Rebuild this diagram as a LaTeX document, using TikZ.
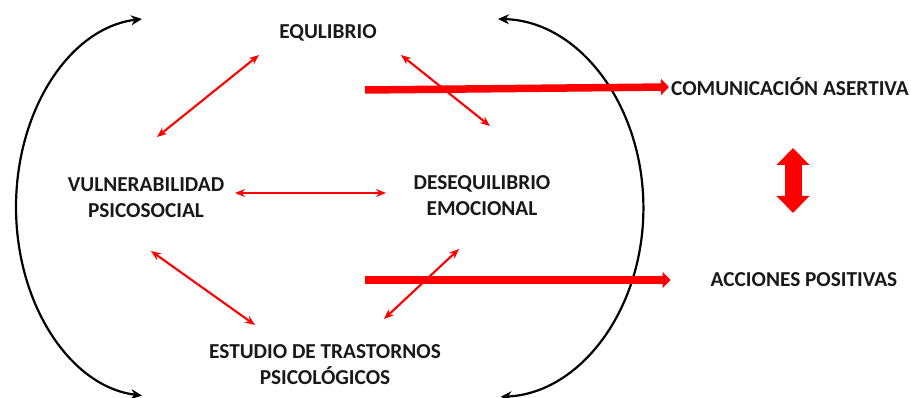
\documentclass[tikz,border=0pt]{standalone}
\usepackage{fontspec}
\setmainfont{Carlito}
\usetikzlibrary{arrows.meta, positioning}
\begin{document}
\begin{tikzpicture}[x=1pt,y=1pt,
	lbl/.style={font=\bfseries\fontsize{21.3}{26}\selectfont, align=center, inner sep=0pt, text=black!90},
	dbl/.style={red, line width=2.1pt, {Stealth[length=10pt,width=8pt]}-{Stealth[length=10pt,width=8pt]}},
	big/.style={red, line width=7.5pt, -{Triangle[length=8pt,width=16pt]}},
	loop/.style={black, line width=2.2pt, {Stealth[length=11pt,width=10pt]}-{Stealth[length=11pt,width=10pt]}}]
					\useasboundingbox (0,0) rectangle (911,398);
					% labels
					\node[lbl] (equ) at (328,365) {EQULIBRIO};
					\node[lbl] (vul) at (146,200) {VULNERABILIDAD\\PSICOSOCIAL};
					\node[lbl] (des) at (482,202) {DESEQUILIBRIO\\EMOCIONAL};
					\node[lbl] (est) at (325,33) {ESTUDIO DE TRASTORNOS\\PSICOLÓGICOS};
					\node[lbl] (com) at (790,311) {COMUNICACIÓN ASERTIVA};
					\node[lbl] (acc) at (804,118) {ACCIONES POSITIVAS};
					% arrow ends
					\coordinate (equA) at (259,343);
					\coordinate (vulA) at (157,261);
					\coordinate (equB) at (401,343);
					\coordinate (desA) at (490,272);
					\coordinate (vulB) at (235,205);
					\coordinate (desB) at (386,205);
					\coordinate (vulC) at (151,147);
					\coordinate (estA) at (255,73);
					\coordinate (desC) at (459,149);
					\coordinate (estB) at (384,79);
					\coordinate (comA) at (365,308);
					\coordinate (accA) at (365,118);
					\coordinate (ltop) at (142,379);
					\coordinate (rtop) at (498,379);
					\draw[dbl] (equA) to (vulA);
					\draw[dbl] (equB) to (desA);
					\draw[dbl] (vulB) to (desB);
					\draw[dbl] (vulC) to (estA);
					\draw[dbl] (desC) to (estB);
					\draw[loop] (ltop) arc[start angle=95, end angle=265, x radius=138, y radius=189];
					\draw[loop] (rtop) arc[start angle=89, end angle=-88, x radius=148, y radius=189];
					\draw[big] (comA) to ([xshift=-2pt]com.west);
					\draw[big] (accA) to ([xshift=-40pt]acc.west);
					\draw[red, line width=17pt, {Triangle[length=17pt,width=32pt]}-{Triangle[length=17pt,width=32pt]}] (793,250) to (793,185);
				\end{tikzpicture}
\end{document}
